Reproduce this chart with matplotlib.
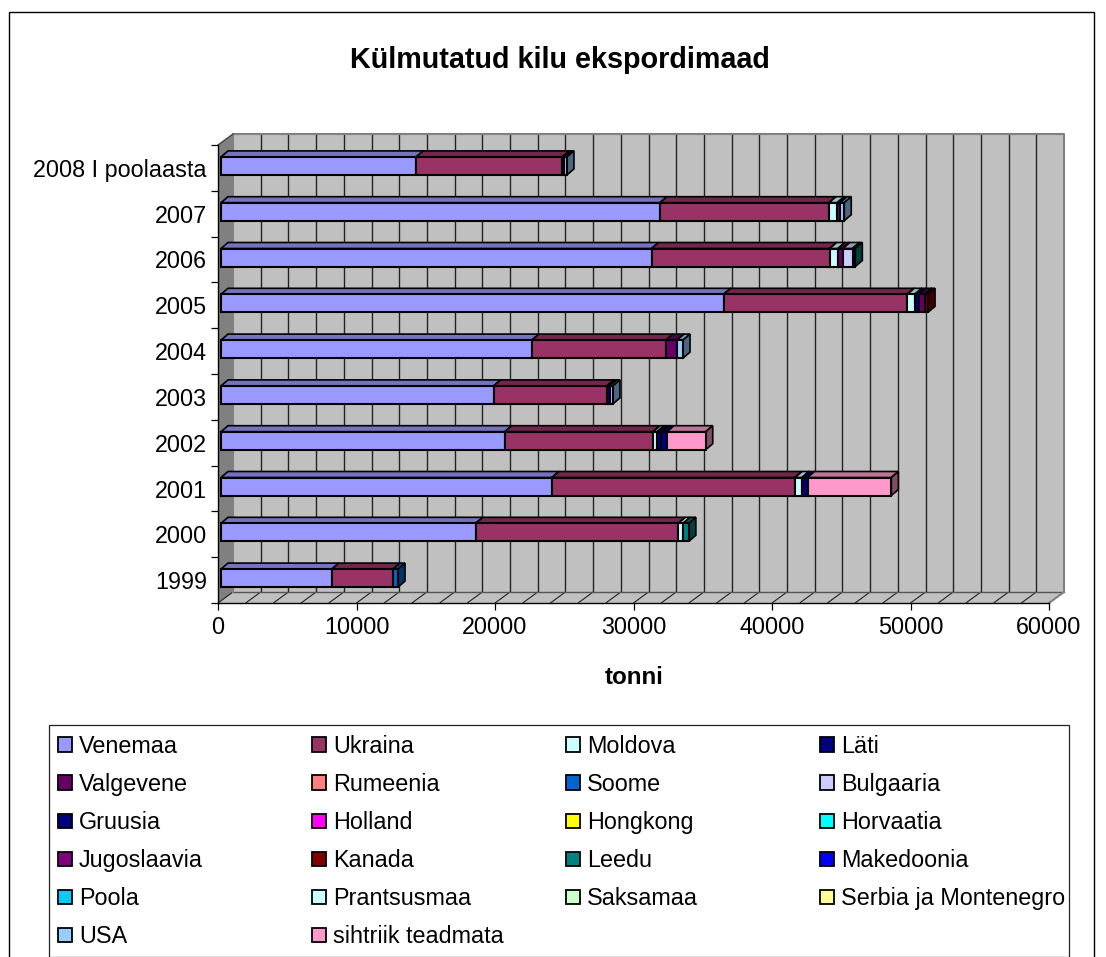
import numpy as np
import matplotlib
matplotlib.use("Agg")
import matplotlib.pyplot as plt
from matplotlib.patches import Rectangle, Polygon, Patch
from matplotlib.collections import LineCollection
from matplotlib.colors import to_rgb

plt.rcParams['font.family'] = ['Liberation Sans', 'DejaVu Sans']

categories = ['1999', '2000', '2001', '2002', '2003', '2004', '2005', '2006', '2007', '2008 I poolaasta']
title = 'Külmutatud kilu ekspordimaad'
xlabel = 'tonni'
xticks = [0, 10000, 20000, 30000, 40000, 50000, 60000]

# tonnes per destination, 1999 ... 2008 I half
Venemaa     = [8010, 18400, 23900, 20500, 19700, 22450, 36300, 31100, 31700, 14100]
Ukraina     = [4410, 14620, 17550, 10700, 8170, 9680, 13250, 12850, 12200, 10550]
Moldova     = [0, 360, 500, 300, 0, 0, 550, 600, 600, 150]
Lati        = [0, 0, 400, 300, 200, 0, 300, 0, 0, 0]
Valgevene   = [0, 0, 0, 0, 0, 800, 400, 350, 200, 0]
Rumeenia    = [0] * 10
Soome       = [360, 0, 0, 0, 0, 0, 0, 0, 0, 0]
Bulgaaria   = [0, 0, 0, 0, 0, 0, 0, 700, 0, 0]
Gruusia     = [0, 0, 0, 400, 0, 0, 0, 0, 0, 0]
Holland     = [0] * 10
Hongkong    = [0] * 10
Horvaatia   = [0] * 10
Jugoslaavia = [0] * 10
Kanada      = [0, 0, 0, 0, 0, 0, 250, 0, 0, 0]
Leedu       = [0, 400, 0, 0, 0, 0, 0, 200, 0, 0]
Makedoonia  = [0] * 10
Poola       = [0] * 10
Prantsusmaa = [0] * 10
Saksamaa    = [0] * 10
Serbia      = [0] * 10
USA         = [0, 0, 0, 0, 230, 430, 0, 0, 300, 180]
Teadmata    = [0, 0, 6050, 2800, 0, 0, 0, 0, 0, 0]

series_names = ['Venemaa', 'Ukraina', 'Moldova', 'Läti', 'Valgevene', 'Rumeenia', 'Soome', 'Bulgaaria',
                'Gruusia', 'Holland', 'Hongkong', 'Horvaatia', 'Jugoslaavia', 'Kanada', 'Leedu', 'Makedoonia',
                'Poola', 'Prantsusmaa', 'Saksamaa', 'Serbia ja Montenegro', 'USA', 'sihtriik teadmata']
series_values = [Venemaa, Ukraina, Moldova, Lati, Valgevene, Rumeenia, Soome, Bulgaaria,
                 Gruusia, Holland, Hongkong, Horvaatia, Jugoslaavia, Kanada, Leedu, Makedoonia,
                 Poola, Prantsusmaa, Saksamaa, Serbia, USA, Teadmata]
series_colors = ['#9999FF', '#993366', '#CCFFFF', '#000080', '#660066', '#FF8080', '#0066CC', '#CCCCFF',
                 '#000080', '#FF00FF', '#FFFF00', '#00FFFF', '#800080', '#800000', '#008080', '#0000FF',
                 '#00CCFF', '#CCFFFF', '#CCFFCC', '#FFFF99', '#99CCFF', '#FF99CC']

W, H = 1106, 957
fig = plt.figure(figsize=(W / 100, H / 100), dpi=100, facecolor='white')

def fx(px):
    return px / W

def fy(py):
    return 1 - py / H

FS = 16.8

# outer frame and legend box
fig.add_artist(Rectangle((fx(9), fy(990)), fx(1085), 978 / H, transform=fig.transFigure,
                         fill=False, ec='black', lw=1.0))
fig.add_artist(Rectangle((fx(49.5), fy(956.5)), fx(1019), 231.5 / H, transform=fig.transFigure,
                         fill=False, ec='#222222', lw=0.9))

L, R, T, B = 218, 1049, 145, 603
ax = fig.add_axes([fx(L), fy(B), fx(R - L), (B - T) / H])
ax.set_xlim(0, 60000)
ax.set_ylim(-0.5, 9.5)
ax.patch.set_visible(False)
pxx = 60000 / (R - L)
pxy = 10 / (B - T)

# 3-D box depth
DX, DY = 15 * pxx, 11 * pxy
x0, x1 = 0, 60000
y0, y1 = -0.5, 9.5
WALL = '#C0C0C0'
SHADE = '#808080'
ax.add_patch(Polygon([(x0 + DX, y0 + DY), (x1 + DX, y0 + DY), (x1 + DX, y1 + DY), (x0 + DX, y1 + DY)],
                     closed=True, fc=WALL, ec='none', clip_on=False, zorder=1))
ax.add_patch(Polygon([(x0, y0), (x1, y0), (x1 + DX, y0 + DY), (x0 + DX, y0 + DY)],
                     closed=True, fc=WALL, ec='none', clip_on=False, zorder=1))
ax.add_patch(Polygon([(x0, y0), (x0 + DX, y0 + DY), (x0 + DX, y1 + DY), (x0, y1)],
                     closed=True, fc=SHADE, ec='none', clip_on=False, zorder=1))
grid_x = np.arange(2000, 60000, 2000)
ax.vlines(grid_x + DX, y0 + DY, y1 + DY, color='#222222', lw=1.0, clip_on=False, zorder=2)
ax.add_collection(LineCollection([[(g, y0), (g + DX, y0 + DY)] for g in np.arange(0, 60000, 2000)],
                                 colors='#222222', lw=0.8, clip_on=False, zorder=2))
ax.plot([x0 + DX, x1 + DX], [y0 + DY, y0 + DY], color='#555555', lw=1.0, clip_on=False, zorder=2)
ax.plot([x0 + DX, x0 + DX, x1 + DX, x1 + DX, x1], [y0 + DY, y1 + DY, y1 + DY, y0 + DY, y0],
        color=SHADE, lw=1.5, clip_on=False, zorder=2)
ax.plot([x0, x0 + DX], [y1, y1 + DY], color='#444444', lw=1.0, clip_on=False, zorder=2)

# stacked bars: front face plus top and right side faces
BAR_X = 3 * pxx
BAR_Y = 2 * pxy
BAR_H = 18 * pxy
BDX, BDY = 7 * pxx, 6 * pxy

def shade(c, f):
    return tuple(v * f for v in to_rgb(c))

left = np.zeros(len(categories)) + BAR_X
z = 5
for vals, col, name in zip(series_values, series_colors, series_names):
    vals = np.array(vals, dtype=float)
    for i, v in enumerate(vals):
        if v <= 0:
            continue
        xa, xb = left[i], left[i] + v
        yb = i + BAR_Y - BAR_H / 2
        yt = i + BAR_Y + BAR_H / 2
        ax.add_patch(Polygon([(xa, yt), (xb, yt), (xb + BDX, yt + BDY), (xa + BDX, yt + BDY)], closed=True,
                             fc=shade(col, 0.75), ec='black', lw=1.2, clip_on=False, zorder=z, joinstyle='miter'))
        ax.add_patch(Polygon([(xb, yb), (xb + BDX, yb + BDY), (xb + BDX, yt + BDY), (xb, yt)], closed=True,
                             fc=shade(col, 0.5), ec='black', lw=1.2, clip_on=False, zorder=z, joinstyle='miter'))
        ax.barh(i + BAR_Y, v, height=BAR_H, left=xa, color=col, edgecolor='black', linewidth=1.5,
                clip_on=False, zorder=z + 1)
    left = left + vals
    z += 2

# axes
for s in ('top', 'right'):
    ax.spines[s].set_visible(False)
for s in ('left', 'bottom'):
    ax.spines[s].set_linewidth(1.0)
    ax.spines[s].set_zorder(3)
ax.set_xticks(xticks)
ax.set_xticklabels([str(t) for t in xticks], fontsize=FS)
ax.tick_params(axis='x', length=5, width=0.9, pad=4, color='black')
ax.set_yticks(np.arange(-0.5, 10, 1))
ax.set_yticklabels([])
ax.set_yticks(np.arange(len(categories)), labels=categories, minor=True, fontsize=FS)
ax.tick_params(axis='y', which='major', length=5, width=0.9)
ax.tick_params(axis='y', which='minor', length=0, pad=8)

fig.text(fx(560), fy(60.5), title, ha='center', va='center', fontsize=20.7, fontweight='bold')
fig.text(fx(634), fy(677), xlabel, ha='center', va='center', fontsize=17.4, fontweight='bold')

# legend: one per column so columns sit on a fixed pitch, filled row by row
handles = [Patch(fc=c, ec='black', lw=1.3) for c in series_colors]
col_x = [58, 312, 566, 820]
for k, cx in enumerate(col_x):
    fig.legend(handles[k::4], series_names[k::4], loc='upper left',
               bbox_to_anchor=(fx(cx), fy(735)), frameon=False, fontsize=FS,
               handlelength=0.59, handleheight=0.59, handletextpad=0.3,
               labelspacing=0.645, borderpad=0, borderaxespad=0)

fig.savefig('out.png', dpi=100, facecolor='white')
